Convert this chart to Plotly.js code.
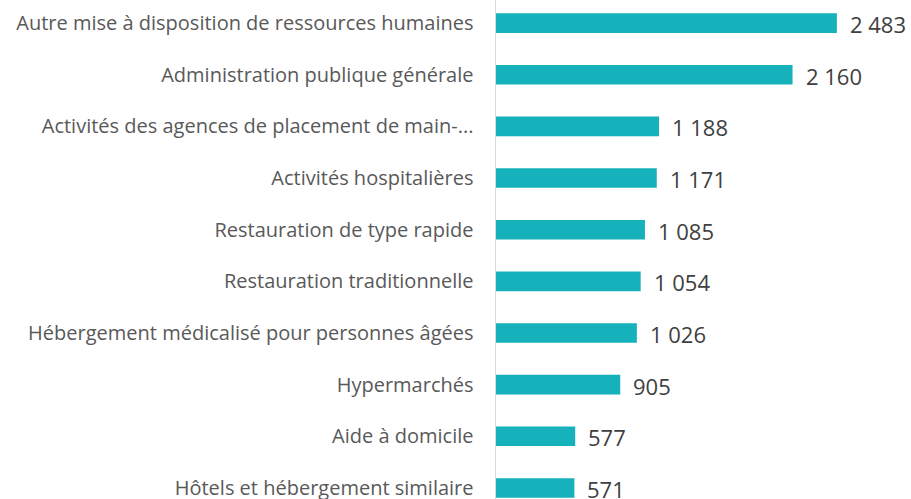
<!DOCTYPE html>
<html>
<head>
<meta charset="utf-8">
<script src="https://cdn.plot.ly/plotly-3.0.1.min.js"></script>
<style>html,body{margin:0;padding:0;background:#fff;}#chart{width:911px;height:499px;}</style>
</head>
<body>
<div id="chart"></div>
<script>
const categories = [
  "Autre mise à disposition de ressources humaines",
  "Administration publique générale",
  "Activités des agences de placement de main-...",
  "Activités hospitalières",
  "Restauration de type rapide",
  "Restauration traditionnelle",
  "Hébergement médicalisé pour personnes âgées",
  "Hypermarchés",
  "Aide à domicile",
  "Hôtels et hébergement similaire"
];
const values = [2483, 2160, 1188, 1171, 1085, 1054, 1026, 905, 577, 571];

function fmt(v) {
  return String(v).replace(/\B(?=(\d{3})+(?!\d))/g, " ");
}

const FONT = "'Open Sans', Lato, sans-serif";

const trace = {
  type: "bar",
  orientation: "h",
  x: values,
  y: categories,
  marker: { color: "#15B2BC" },
  width: 0.38,
  hoverinfo: "none"
};

const annotations = values.map((v, i) => ({
  x: v, y: categories[i], xref: "x", yref: "y",
  text: fmt(v), showarrow: false, xanchor: "left", yanchor: "middle",
  xshift: 11, yshift: -1,
  font: { family: FONT, size: 22, color: "#404040" }
}));

const layout = {
  width: 911, height: 499,
  margin: { l: 496, r: 0, t: 0, b: 0, pad: 0 },
  paper_bgcolor: "#ffffff", plot_bgcolor: "#ffffff",
  showlegend: false,
  xaxis: { range: [0, 3023], visible: false, fixedrange: true },
  yaxis: {
    type: "category",
    categoryorder: "array", categoryarray: categories,
    range: [9.214, -0.447],
    showline: true, linecolor: "#d9d9d9", linewidth: 1.5,
    showgrid: false, zeroline: false,
    ticks: "", ticklabelstandoff: 17,
    tickfont: { family: FONT, size: 20, color: "#595959" },
    fixedrange: true
  },
  annotations: annotations
};

Plotly.newPlot("chart", [trace], layout, { staticPlot: true, displayModeBar: false });
</script>
</body>
</html>
